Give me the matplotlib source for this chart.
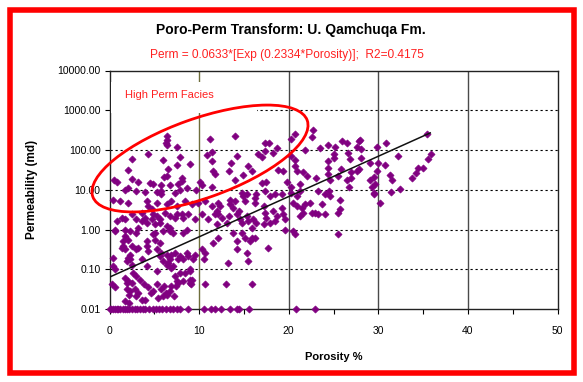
import numpy as np
import matplotlib.pyplot as plt
import matplotlib.ticker as mticker
from matplotlib.patches import Ellipse, Rectangle

plt.rcParams['font.family'] = ['Liberation Sans', 'DejaVu Sans']

W, H = 583, 382
PURPLE = "#800080"

# -- Data: (porosity %, permeability md) --------------------------------------
upper_left = [
    (6.4, 220), (6.4, 182), (6.3, 149), (6.4, 136), (11.2, 190), (7.5, 120),
    (4.3, 80), (11.4, 90), (10.85, 76), (7.9, 67), (2.55, 60), (9.0, 45),
    (7.5, 43), (6.0, 57), (11.4, 54), (2.1, 32), (6.56, 34), (11.6, 30),
    (11.8, 25), (6.4, 22), (6.1, 21), (8.1, 20), (0.53, 18), (0.8, 16),
    (2.55, 19), (3.2, 16), (4.5, 15), (4.9, 14), (5.8, 13.5), (6.75, 13),
    (7.6, 14), (8.05, 17), (10.1, 16), (1.73, 10), (2.1, 11), (3.0, 9.2),
    (3.96, 9.0), (5.27, 8.9), (5.8, 9.2), (5.7, 7.6), (7.3, 8.3), (7.87, 10),
    (8.6, 11), (9.7, 10), (10.3, 13), (11.4, 12),
    (1.17, 5.1), (2.1, 4.7), (4.15, 5.1), (4.33, 3.8), (5.27, 4.7), (6.4, 4.3),
    (6.9, 5.1), (7.5, 3.8), (8.4, 5.1), (9.2, 4.3), (9.9, 4.7), (10.7, 5.1),
    (0.4, 5.6),
]

mid_left = [
    (0.8, 1.6), (1.36, 1.96), (1.73, 1.8), (2.48, 2.4), (3.0, 1.8), (3.6, 2.6),
    (3.96, 1.96), (4.7, 1.8), (5.08, 1.34), (5.64, 1.47), (6.2, 2.6), (6.75, 2.2),
    (7.5, 2.4), (8.24, 2.0), (8.8, 2.4), (9.54, 1.8), (10.3, 2.4), (11.0, 1.8),
    (11.8, 2.4), (11.4, 3.9),
    (0.6, 0.9), (1.73, 1.0), (2.3, 0.9), (3.2, 1.1), (3.0, 0.82), (4.9, 0.75),
    (5.1, 0.82), (6.0, 0.9), (6.75, 1.1), (7.1, 0.82), (8.24, 0.82), (8.6, 1.0),
    (1.54, 0.51), (1.54, 0.38), (1.73, 0.32), (4.15, 0.51), (4.15, 0.38),
    (4.33, 0.28), (3.2, 0.35), (2.29, 0.235), (1.92, 0.16), (5.27, 0.32),
    (5.8, 0.26), (6.9, 0.235), (7.3, 0.26), (7.87, 0.21), (8.6, 0.26),
    (9.54, 0.235), (10.5, 0.18), (6.56, 0.145), (6.9, 0.11), (2.48, 0.13),
    (5.1, 0.56), (5.6, 0.47), (0.4, 0.19), (2.1, 0.19), (2.3, 0.18), (3.6, 0.18),
    (4.15, 0.12), (5.27, 0.09), (6.4, 0.235), (7.7, 0.18), (8.24, 0.18),
    (9.0, 0.09), (10.3, 0.32), (10.7, 0.26),
    (0.6, 1.0), (1.73, 0.68), (2.1, 0.56), (1.36, 0.35), (2.48, 0.38), (3.0, 0.32),
    (3.6, 1.6), (4.15, 1.47), (4.7, 3.2), (4.9, 2.4), (5.27, 2.2), (5.64, 1.8),
    (6.4, 1.2), (6.75, 0.9), (7.3, 2.0), (8.05, 2.4),
    (5.64, 0.21), (6.0, 0.16), (6.4, 0.13), (6.75, 0.18), (7.1, 0.12),
    (7.87, 0.081), (8.24, 0.05), (8.4, 0.081), (9.2, 0.055), (8.8, 0.21),
    (9.35, 0.18), (9.0, 0.10), (11.6, 0.46), (0.4, 0.12), (0.6, 0.10),
    (2.66, 0.081), (3.0, 0.067), (3.4, 0.055),
]

low_left = [
    (0.25, 0.042), (0.6, 0.035), (1.73, 0.061), (2.1, 0.05), (2.48, 0.046),
    (1.92, 0.031), (2.3, 0.028), (2.85, 0.031), (3.2, 0.026), (3.0, 0.021),
    (3.6, 0.017), (4.33, 0.035), (4.9, 0.028), (5.8, 0.031), (6.4, 0.023),
    (6.0, 0.021), (7.3, 0.067), (7.5, 0.05), (6.9, 0.038), (6.75, 0.028),
    (8.98, 0.055), (8.98, 0.046), (10.7, 0.042), (5.45, 0.019), (3.96, 0.017),
    (1.95, 0.046), (2.2, 0.023), (1.75, 0.016), (2.2, 0.014), (3.85, 0.042),
    (4.67, 0.026), (5.3, 0.042), (6.1, 0.037), (6.3, 0.026), (7.4, 0.037),
    (7.2, 0.021), (7.6, 0.046), (9.05, 0.042), (13.0, 0.042), (15.9, 0.042),
]

mid_upper = [
    (14.0, 220), (20.7, 250), (20.3, 190), (22.7, 310), (22.6, 210), (17.35, 150),
    (17.8, 150), (18.7, 112), (16.6, 80), (17.35, 93), (17.0, 66), (18.3, 85),
    (14.2, 69), (20.3, 69), (20.7, 57), (21.8, 100), (23.5, 112), (24.4, 137),
    (13.6, 48), (13.3, 29), (15.5, 39), (15.9, 29), (18.8, 32), (19.4, 30),
    (20.7, 39), (20.9, 29), (21.6, 28), (22.0, 22), (24.4, 35), (14.9, 24),
    (14.0, 18), (17.0, 15), (17.5, 16), (19.8, 16), (20.3, 12), (21.3, 14),
    (23.1, 20), (14.75, 8.4), (15.3, 7.6), (16.4, 7.6), (17.35, 9.2), (18.5, 7.6),
    (19.2, 7.6), (20.3, 8.4), (20.9, 6.9), (21.3, 9.2), (23.3, 9.2), (24.05, 7.6),
    (13.45, 5.6), (14.0, 5.1), (14.9, 6.9), (15.1, 5.1), (16.2, 6.3), (17.9, 6.9),
]

mid_lower = [
    (12.1, 4.7), (12.3, 3.9), (12.0, 2.9), (12.1, 2.4), (12.5, 2.0), (12.0, 1.34),
    (13.45, 4.3), (13.3, 2.2), (13.1, 1.47), (13.8, 3.5), (14.4, 2.9), (14.2, 2.4),
    (14.56, 1.8), (14.75, 1.47), (15.3, 2.2), (15.5, 1.6), (16.05, 1.8),
    (16.4, 1.47), (16.2, 4.7), (17.2, 3.9), (17.35, 2.6), (17.5, 2.0), (17.2, 1.34),
    (17.9, 1.47), (18.3, 2.9), (18.7, 2.2), (18.5, 1.6), (19.2, 3.5), (19.4, 2.4),
    (19.6, 1.8), (20.5, 4.7), (20.9, 3.9), (21.45, 3.5), (21.8, 4.3), (21.6, 2.6),
    (21.3, 2.2), (22.4, 4.7), (22.6, 2.6), (23.7, 4.3), (22.9, 2.6), (23.3, 2.4),
    (24.05, 2.4), (13.8, 0.82), (14.75, 0.82), (15.1, 0.62), (15.9, 0.62),
    (16.2, 0.62), (15.7, 0.51), (14.2, 0.51), (12.1, 0.62), (15.9, 1.1),
    (19.6, 1.0), (20.5, 0.9), (20.7, 0.75), (14.2, 0.32), (15.3, 0.26),
    (17.7, 0.35), (15.5, 0.16), (13.2, 0.14),
]

right_side = [
    (35.4, 250), (35.9, 81), (35.5, 60), (34.4, 35), (34.95, 36), (34.2, 27),
    (33.8, 20), (30.9, 150), (29.8, 117), (27.95, 182), (27.8, 165), (27.6, 117),
    (28.1, 108), (25.9, 165), (26.5, 150), (25.2, 117), (25.0, 80), (25.1, 63),
    (24.4, 54), (26.65, 85), (26.8, 60), (28.1, 63), (29.1, 48), (30.0, 48),
    (29.8, 29), (30.75, 43), (32.2, 69), (25.8, 34), (25.5, 22), (27.0, 28),
    (27.6, 30), (27.8, 34), (24.4, 25), (24.6, 18), (26.5, 18), (27.0, 20),
    (29.1, 18), (29.55, 21), (29.6, 14), (29.3, 12), (31.3, 24), (31.5, 18),
    (32.4, 10.5), (26.7, 11.5), (29.55, 8.4), (29.55, 7.6), (31.4, 8.7),
    (24.5, 9.2), (24.6, 6.9), (25.7, 5.4), (30.2, 4.7), (25.5, 2.6), (25.7, 3.3),
    (25.5, 0.79),
]

# samples sitting on the 0.01 md floor
floor_porosity = [0.0, 0.2, 0.4, 0.6, 0.8, 1.0, 1.2, 1.5, 1.7, 1.9, 2.2, 2.5,
                  2.8, 3.1, 3.4, 3.7, 4.0, 4.4, 4.8, 5.2, 5.5, 5.9, 6.3, 6.7,
                  7.1, 7.5, 7.9, 8.8, 10.5, 11.3, 11.8, 12.4, 13.4, 14.2, 14.4,
                  15.6, 20.8, 22.9]
FLOOR_PERM = 0.01

# trendline from the chart's equation
COEF_A, COEF_B, R2 = 0.0633, 0.2334, 0.4175
TREND_MAX_POR = 35.8

y_ticks = [0.01, 0.1, 1, 10, 100, 1000, 10000]
y_labels = ["0.01", "0.10", "1.00", "10.00", "100.00", "1000.00", "10000.00"]

# -- Assemble ------------------------------------------------------------------
pts = np.array(upper_left + mid_left + low_left + mid_upper + mid_lower + right_side)
por = np.concatenate([pts[:, 0], floor_porosity])
perm = np.concatenate([pts[:, 1], np.full(len(floor_porosity), FLOOR_PERM)])

fig = plt.figure(figsize=(W / 100, H / 100), dpi=100)
ax = fig.add_axes([109.5 / W, 1 - 309 / H, 448 / W, 238.5 / H])
ax.set_axisbelow(True)

ax.set_yscale("log")
ax.set_xlim(0, 50)
ax.set_ylim(0.01, 10000)

# grid: solid verticals, dotted horizontals
for xv in [10, 20, 30, 40]:
    ax.axvline(xv, color="#6e6e3c" if xv == 10 else "#4a4a4a", lw=1.0, zorder=0.5)
for yv in [0.1, 1, 10, 100, 1000]:
    ax.axhline(yv, color="black", lw=0.8, ls=(0, (2, 2.5)), zorder=0.5)

ax.scatter(por, perm, marker="D", s=13, color=PURPLE, edgecolors=PURPLE,
           linewidths=0.5, clip_on=False, zorder=3)

xt = np.linspace(0, TREND_MAX_POR, 200)
ax.plot(xt, COEF_A * np.exp(COEF_B * xt), color="#111111", lw=1.1, zorder=4)

ax.yaxis.set_major_locator(mticker.FixedLocator(y_ticks))
ax.yaxis.set_major_formatter(mticker.FixedFormatter(y_labels))
ax.yaxis.set_minor_locator(mticker.NullLocator())
ax.xaxis.set_major_locator(mticker.MultipleLocator(10))
ax.xaxis.set_minor_locator(mticker.MultipleLocator(5))
ax.tick_params(axis="both", which="both", direction="out", length=3.5,
               width=0.8, labelsize=7.5, color="black", pad=3)
ax.tick_params(axis="x", pad=9)
for sp in ax.spines.values():
    sp.set_color("#222222")
    sp.set_linewidth(1.0)

ax.set_xlabel("Porosity %", fontsize=8, fontweight="bold", labelpad=11)
ax.set_ylabel("Permeability (md)", fontsize=8.5, fontweight="bold", labelpad=14)

fig.text(291 / W, 1 - 30 / H, "Poro-Perm Transform: U. Qamchuqa Fm.",
         ha="center", va="center", fontsize=10, fontweight="bold")
fig.text(287 / W, 1 - 55 / H,
         f"Perm = {COEF_A}*[Exp ({COEF_B}*Porosity)];  R2={R2}",
         ha="center", va="center", fontsize=8.6, color="#ff2020")

# -- Overlay in figure pixels: annotation box, ellipse, border ----------------
ov = fig.add_axes([0, 0, 1, 1], zorder=5)
ov.set_xlim(0, W)
ov.set_ylim(H, 0)
ov.axis("off")
ov.patch.set_alpha(0)

ov.add_patch(Rectangle((111, 82), 146, 31, facecolor="white", edgecolor="none", zorder=1))
ov.add_patch(Ellipse((200, 158.5), 227.6, 79.4, angle=-19.6, fill=False,
                     edgecolor="#ff0000", lw=2.0, zorder=2))
ov.text(125, 95, "High Perm Facies", ha="left", va="center", fontsize=8,
        color="#ff2020", zorder=3)
ov.add_patch(Rectangle((9.5, 9.5), W - 19, H - 19, fill=False,
                       edgecolor="#ff0000", lw=4.0, zorder=4))

fig.savefig("out.png", dpi=100)
